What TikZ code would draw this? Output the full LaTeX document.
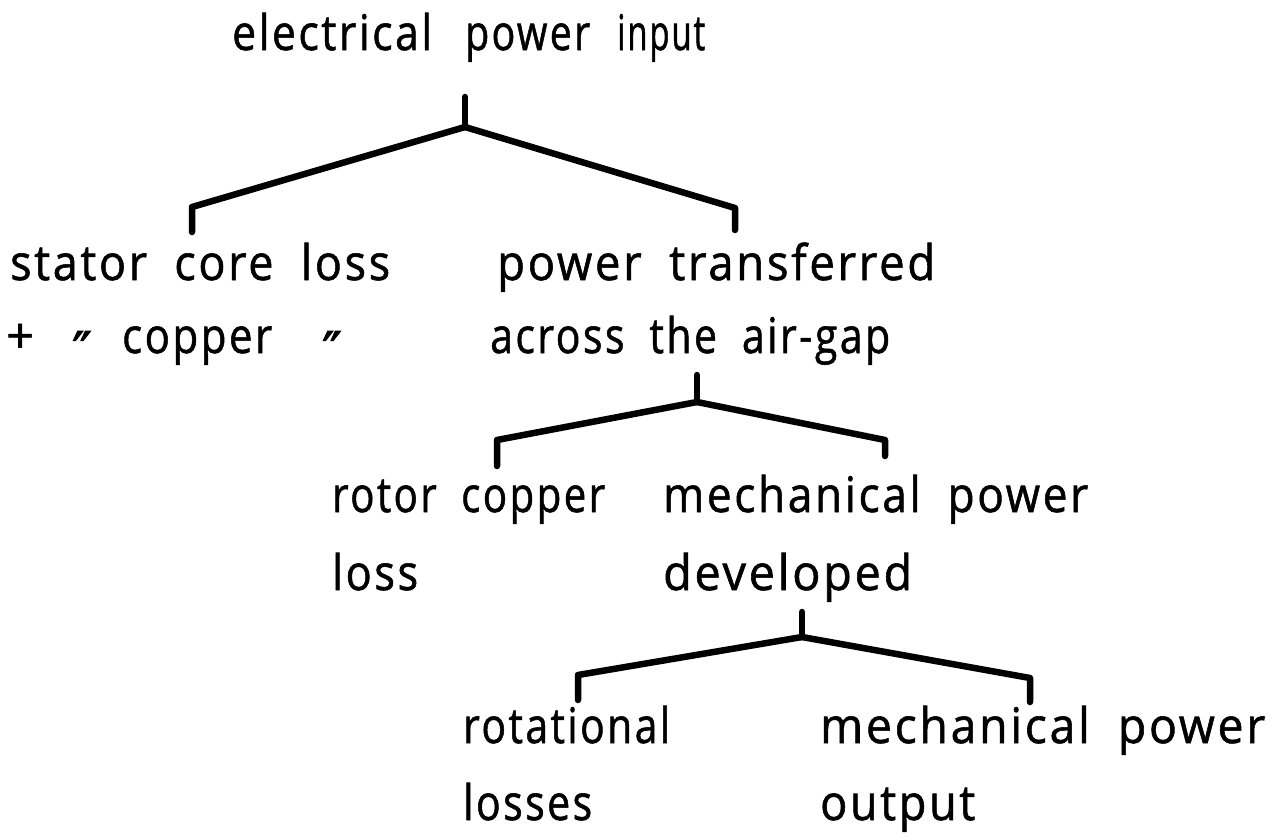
\documentclass[tikz,border=0pt]{standalone}
\usepackage{fontspec}
\usepackage{graphicx}
\setmainfont{Open Sans}[LetterSpace=6.0,WordSpace=1.9,FakeBold=1.2]
\newfontfamily\symfont{DejaVu Sans}[FakeBold=2]
\newcommand{\fitw}[2]{\resizebox{#1pt}{\height}{#2}}
\begin{document}
\begin{tikzpicture}[x=1pt,y=-1pt,
  lbl/.style={anchor=base west, inner sep=0pt, font=\fontsize{49}{60}\selectfont},
  ditto/.style={anchor=north, inner sep=0pt, font=\symfont\fontsize{52}{60}\selectfont},
  conn/.style={line width=6.5pt, line join=round, line cap=round}]
\useasboundingbox (0,0) rectangle (1279,835);
% labels
\node[lbl] (top) at (232,50) {\fitw{200}{electrical}\hspace{33pt}\fitw{125}{power}\hspace{27pt}\fitw{88}{input}};
\node[lbl] (stator) at (10,280) {\fitw{380}{stator core loss}};
\node[lbl] (plus) at (6,353) {+};
\node[ditto] (dA) at (82,331) {″};
\node[lbl] (copper) at (122,353) {\fitw{150}{copper}};
\node[ditto] (dB) at (332,331) {″};
\node[lbl] (ptrans) at (497,280) {\fitw{438}{power transferred}};
\node[lbl] (across) at (490,353) {\fitw{400}{across the air-gap}};
\node[lbl] (rotorA) at (332,512) {\fitw{273}{rotor copper}};
\node[lbl] (rotorB) at (332,590) {\fitw{86}{loss}};
\node[lbl] (mechA) at (663,512) {\fitw{425}{mechanical power}};
\node[lbl] (mechB) at (663,590) {\fitw{249}{developed}};
\node[lbl] (rotA) at (463,743) {\fitw{207}{rotational}};
\node[lbl] (rotB) at (463,820) {\fitw{129}{losses}};
\node[lbl] (outA) at (820,743) {\fitw{445}{mechanical power}};
\node[lbl] (outB) at (820,820) {\fitw{155}{output}};
% tree 1
\coordinate (s1) at (465,97);
\coordinate (j1) at (465,127);
\coordinate (l1) at (192,207);
\coordinate (l1t) at (192,232);
\coordinate (r1) at (735,208);
\coordinate (r1t) at (735,230);
\draw[conn] (s1) -- (j1);
\draw[conn] (j1) -- (l1) -- (l1t);
\draw[conn] (j1) -- (r1) -- (r1t);
% tree 2
\coordinate (s2) at (697,375);
\coordinate (j2) at (697,402);
\coordinate (l2) at (497,440);
\coordinate (l2t) at (497,466);
\coordinate (r2) at (885,440);
\coordinate (r2t) at (885,456);
\draw[conn] (s2) -- (j2);
\draw[conn] (j2) -- (l2) -- (l2t);
\draw[conn] (j2) -- (r2) -- (r2t);
% tree 3
\coordinate (s3) at (802,612);
\coordinate (j3) at (802,637);
\coordinate (l3) at (578,675);
\coordinate (l3t) at (578,700);
\coordinate (r3) at (1030,678);
\coordinate (r3t) at (1030,702);
\draw[conn] (s3) -- (j3);
\draw[conn] (j3) -- (l3) -- (l3t);
\draw[conn] (j3) -- (r3) -- (r3t);
\end{tikzpicture}
\end{document}
